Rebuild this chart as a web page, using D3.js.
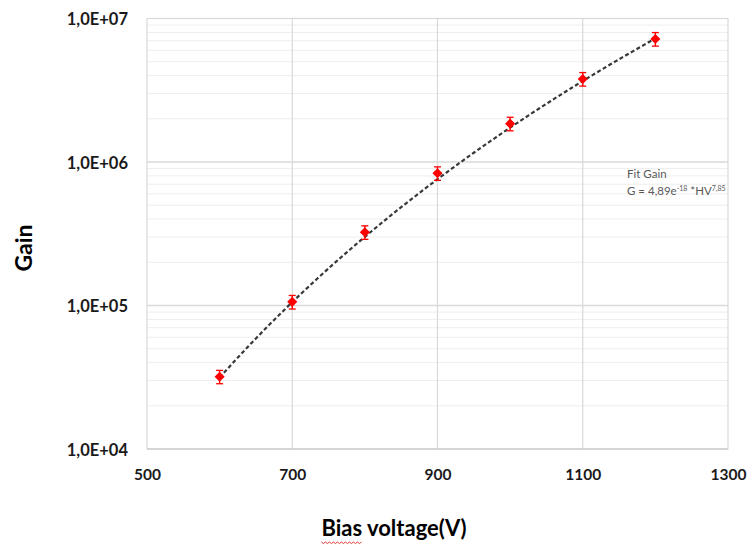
<!DOCTYPE html>
<html>
<head>
<meta charset="utf-8">
<script src="https://cdn.jsdelivr.net/npm/d3@7"></script>
<style>
  html, body { margin: 0; padding: 0; background: #fff; }
  svg { display: block; }
</style>
</head>
<body>
<svg id="chart" width="752" height="545"></svg>
<script>
const svg = d3.select('#chart')

// measurements
const voltage = [600, 700, 800, 900, 1000, 1100, 1200]
const gain = [3.19e4, 1.06e5, 3.24e5, 8.35e5, 1.85e6, 3.79e6, 7.2e6]
const gainErr = [3.4e3, 1.15e4, 3.5e4, 9.0e4, 2.0e5, 4.1e5, 7.8e5]

// axis ticks
const xTicks = [500, 700, 900, 1100, 1300]
const yTicks = [1e4, 1e5, 1e6, 1e7]

// fit G = A * HV^B
const fitA = 4.89e-18
const fitB = 7.85

const plotL = 147, plotR = 728, plotT = 18.5, plotB = 449
const font = 'Lato, "Open Sans", sans-serif'
const gridMajor = '#d9d9d9'
const gridMinor = '#eeeeee'

const x = d3.scaleLinear().domain([500, 1300]).range([plotL, plotR])
const y = d3.scaleLog().domain([1e4, 1e7]).range([plotB, plotT])

// "1,0E+05" style labels
const sci = v => {
  const [m, e] = d3.format('.1e')(v).split('e')
  const n = +e
  return m.replace('.', ',') + 'E' + (n < 0 ? '-' : '+') + String(Math.abs(n)).padStart(2, '0')
}

// minor log gridlines (2..9 in each decade)
const minor = []
for (let d = 1e4; d < 1e7; d *= 10) {
  for (let k = 2; k <= 9; k++) minor.push(k * d)
}

const grid = svg.append('g')

grid.selectAll('line.minor')
  .data(minor)
  .enter()
  .append('line')
    .attr('class', 'minor')
    .attr('x1', plotL).attr('x2', plotR)
    .attr('y1', d => y(d)).attr('y2', d => y(d))
    .attr('stroke', gridMinor)
    .attr('stroke-width', 1)

grid.selectAll('line.hmajor')
  .data(yTicks.slice(1, -1))
  .enter()
  .append('line')
    .attr('class', 'hmajor')
    .attr('x1', plotL).attr('x2', plotR)
    .attr('y1', d => y(d)).attr('y2', d => y(d))
    .attr('stroke', gridMajor)
    .attr('stroke-width', 1.5)

grid.selectAll('line.vmajor')
  .data(xTicks.slice(1, -1))
  .enter()
  .append('line')
    .attr('class', 'vmajor')
    .attr('x1', d => x(d)).attr('x2', d => x(d))
    .attr('y1', plotT).attr('y2', plotB)
    .attr('stroke', gridMajor)
    .attr('stroke-width', 1.2)

// plot area frame
svg.append('rect')
  .attr('x', plotL).attr('y', plotT)
  .attr('width', plotR - plotL).attr('height', plotB - plotT)
  .attr('fill', 'none')
  .attr('stroke', gridMajor)
  .attr('stroke-width', 1.2)

svg.append('line')
  .attr('x1', plotL).attr('x2', plotR)
  .attr('y1', plotB).attr('y2', plotB)
  .attr('stroke', '#cfcfcf')
  .attr('stroke-width', 1.6)

// axes: labels only
const yAxis = d3.axisLeft(y).tickValues(yTicks).tickFormat(sci).tickSize(0).tickPadding(19)
const xAxis = d3.axisBottom(x).tickValues(xTicks).tickFormat(d3.format('d')).tickSize(0).tickPadding(20)

const gy = svg.append('g')
  .attr('transform', `translate(${plotL}, 1)`)
  .call(yAxis)

const gx = svg.append('g')
  .attr('transform', `translate(0, ${plotB})`)
  .call(xAxis)

svg.selectAll('path.domain').remove()
svg.selectAll('.tick text')
  .attr('font-family', font)
  .attr('font-weight', 'bold')
  .attr('fill', '#1a1a1a')
gy.selectAll('.tick text').attr('font-size', '16.5px')
gx.selectAll('.tick text').attr('font-size', '15.5px')

// fit curve, dashed
const fitPts = d3.range(600, 1201, 5).map(v => [v, fitA * Math.pow(v, fitB)])
svg.append('path')
  .datum(fitPts)
  .attr('fill', 'none')
  .attr('stroke', '#383838')
  .attr('stroke-width', 2.2)
  .attr('stroke-dasharray', '4,2.5')
  .attr('d', d3.line().x(d => x(d[0])).y(d => y(d[1])))

// error bars + markers
const pts = svg.selectAll('g.pt')
  .data(voltage.map((v, i) => ({ v, g: gain[i], e: gainErr[i] })))
  .enter()
  .append('g')
    .attr('class', 'pt')

pts.append('line')
  .attr('x1', d => x(d.v)).attr('x2', d => x(d.v))
  .attr('y1', d => y(d.g + d.e)).attr('y2', d => y(d.g - d.e))
  .attr('stroke', '#ff0000').attr('stroke-width', 1.4)

pts.selectAll('line.cap')
  .data(d => [d.g + d.e, d.g - d.e].map(c => ({ v: d.v, c })))
  .enter()
  .append('line')
    .attr('class', 'cap')
    .attr('x1', d => x(d.v) - 3.5).attr('x2', d => x(d.v) + 3.5)
    .attr('y1', d => y(d.c)).attr('y2', d => y(d.c))
    .attr('stroke', '#ff0000').attr('stroke-width', 1.3)

pts.append('path')
  .attr('transform', d => `translate(${x(d.v)}, ${y(d.g)})`)
  .attr('d', d3.symbol().type(d3.symbolDiamond2).size(65))
  .attr('fill', '#ff0000')

// axis titles
svg.append('text')
  .attr('transform', 'translate(32, 248) rotate(-90)')
  .attr('text-anchor', 'middle')
  .attr('font-family', font)
  .attr('font-weight', 'bold')
  .attr('font-size', '23px')
  .attr('fill', '#000')
  .text('Gain')

const xTitle = svg.append('text')
  .attr('x', 394).attr('y', 536)
  .attr('text-anchor', 'middle')
  .attr('font-family', font)
  .attr('font-weight', 'bold')
  .attr('font-size', '22px')
  .attr('fill', '#000')
xTitle.append('tspan').attr('class', 'w1').text('Bias')
xTitle.append('tspan').text(' voltage(V)')

// spell-check squiggle under the first word
const w1 = xTitle.select('tspan.w1').node()
const x0 = w1.getStartPositionOfChar(0).x
const wlen = w1.getComputedTextLength()
const zig = d3.range(0, Math.floor(wlen / 2) + 1).map(i => [x0 + i * 2, 542 + (i % 2 ? 1.5 : 0)])
svg.append('path')
  .attr('d', d3.line()(zig))
  .attr('fill', 'none')
  .attr('stroke', '#e02020')
  .attr('stroke-width', 0.9)

// fit annotation
const note = svg.append('g')
  .attr('font-family', font)
  .attr('font-size', '11.5px')
  .attr('fill', '#595959')

note.append('text').attr('x', 627).attr('y', 178).text('Fit Gain')

const eq = note.append('text').attr('x', 627).attr('y', 195)
eq.append('tspan').text('G = 4,89e')
eq.append('tspan').attr('dy', -4.5).attr('font-size', '7px').text('-18')
eq.append('tspan').attr('dy', 4.5).text(' *HV')
eq.append('tspan').attr('dy', -4.5).attr('font-size', '7px').text('7,85')
</script>
</body>
</html>
